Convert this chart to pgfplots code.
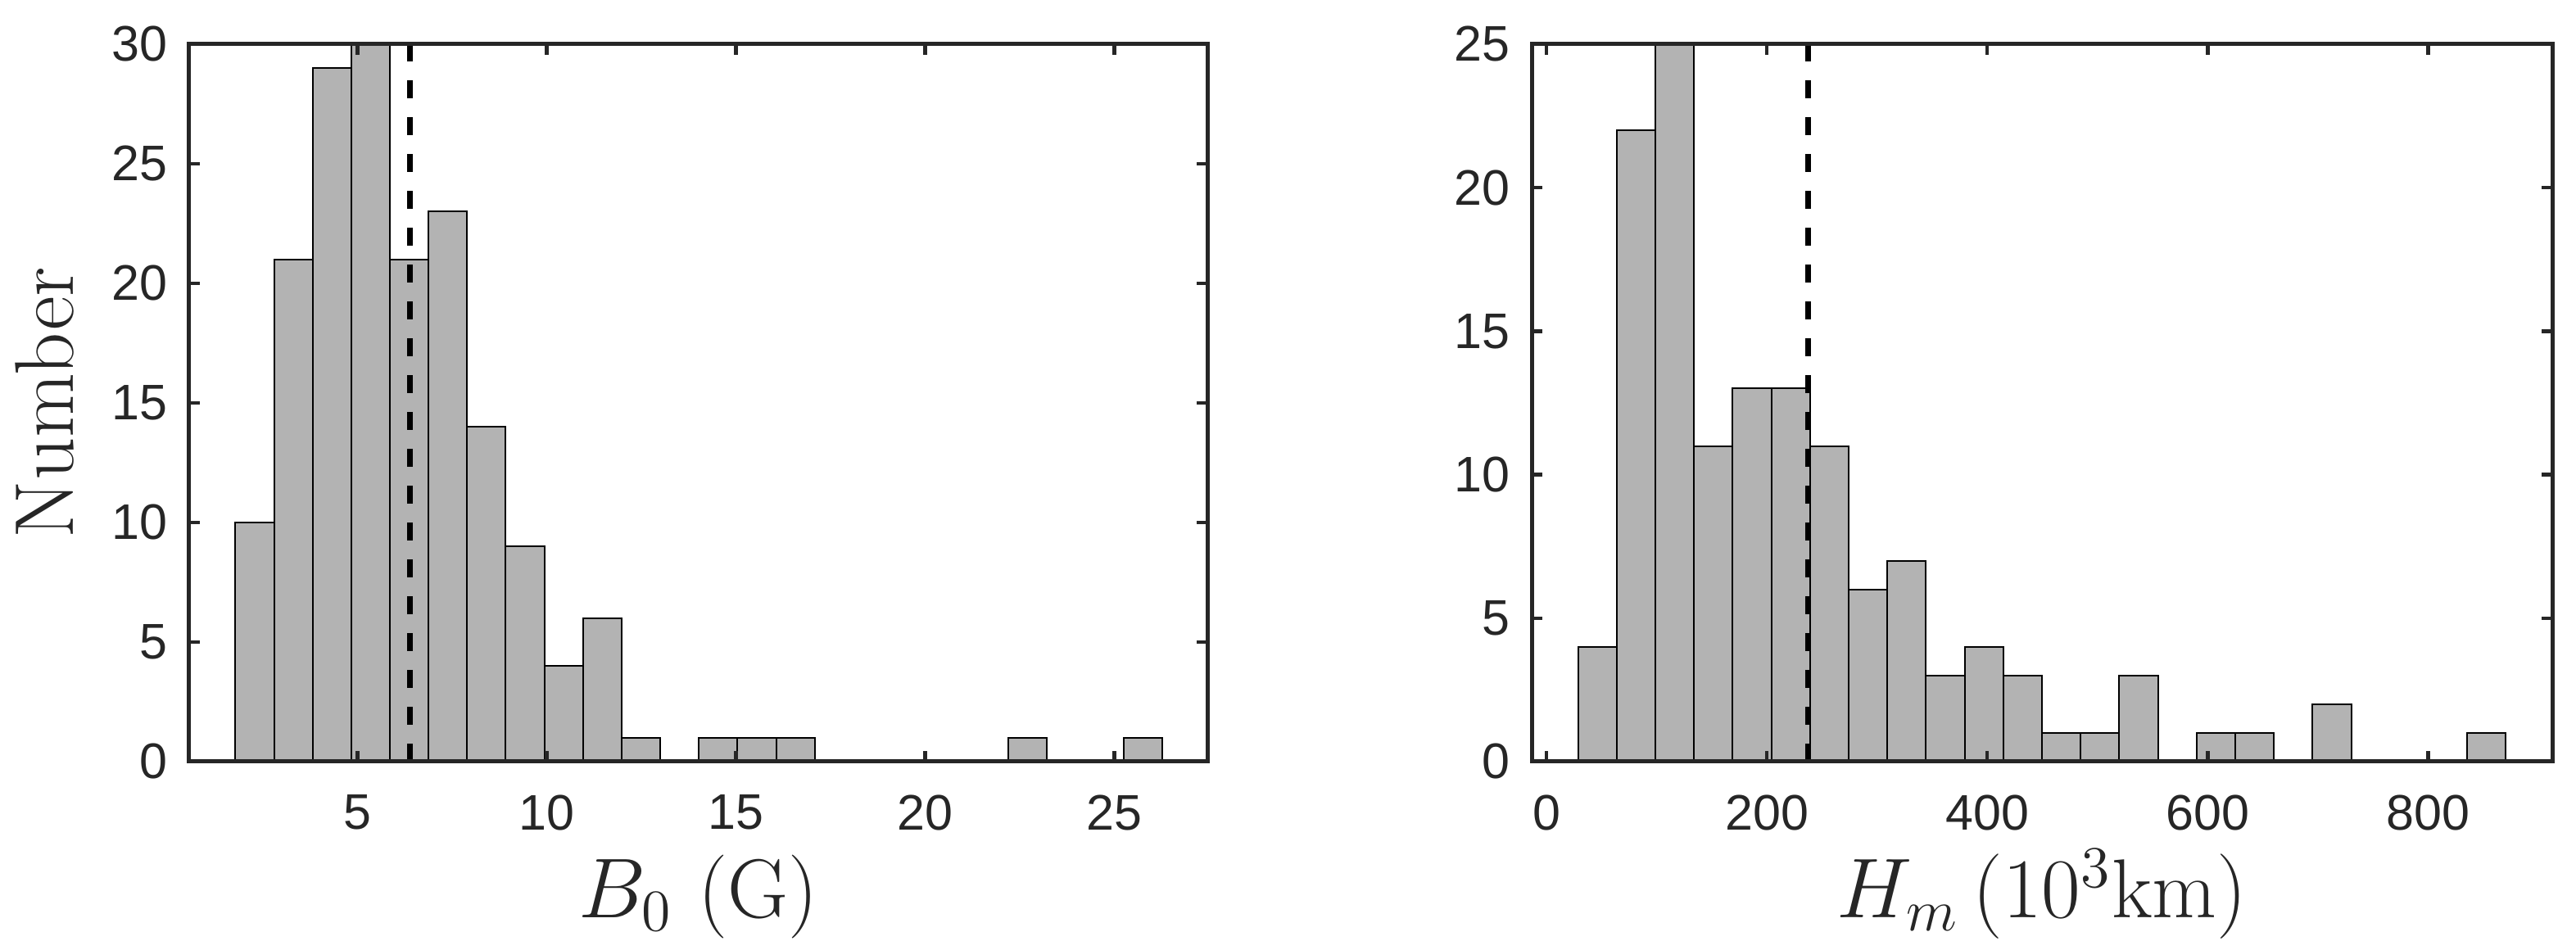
\documentclass[border=0pt]{standalone}
\usepackage{pgfplots}
\pgfplotsset{compat=1.18}
\usepackage{fontspec}
\newfontfamily\arialf{Liberation Sans}
\definecolor{axc}{HTML}{262626}
\definecolor{barc}{HTML}{B3B3B3}
\pgfplotsset{
  histax/.style={
    scale only axis,
    height=175.2pt,
    axis on top,
    axis line style={axc, line width=1pt},
    tick style={axc, line width=0.9pt},
    major tick length=2.6pt,
    tick align=inside,
    xtick pos=both, ytick pos=both,
    ymin=0,
    /pgf/number format/assume math mode=true,
    ticklabel style={font=\arialf\fontsize{12.2}{14}\selectfont, text=axc},
    xticklabel style={yshift=-4.6pt},
    yticklabel style={xshift=-1.8pt},
    label style={font=\fontsize{20.4}{22}\selectfont, text=axc},
    xlabel style={at={(axis description cs:0.5,0)}, anchor=base, yshift=-38.2pt},
    anchor=south west,
  },
  bars/.style={ybar interval, fill=barc, draw=black, line width=0.4pt},
  mean/.style={black, line width=1.3pt, dash pattern=on 4.4pt off 4.6pt},
}
\begin{document}
\begin{tikzpicture}
\useasboundingbox (0,0) rectangle (629pt,232pt);
\begin{axis}[histax, at={(46.2pt,46pt)}, width=248.6pt,
  xmin=0.55, xmax=27.46, ymax=30,
  xtick={5,10,15,20,25}, ytick={0,5,10,15,20,25,30},
  ylabel={Number},
  ylabel style={at={(axis description cs:-0.1416,0.5)}, anchor=center},
  xlabel={$B_0$ (G)}]
\addplot[bars] coordinates {
(1.770,10) (2.791,21) (3.812,29) (4.833,30) (5.854,21) (6.875,23)
(7.896,14) (8.917,9) (9.938,4) (10.959,6) (11.980,1) (13.001,0)
(14.022,1) (15.043,1) (16.064,1) (17.085,0) (18.106,0) (19.127,0)
(20.148,0) (21.169,0) (22.190,1) (23.211,0) (24.232,0) (25.253,1)
(26.274,0)};
\addplot[mean] coordinates {(6.38,0) (6.38,30)};
\end{axis}
\begin{axis}[histax, at={(374pt,46pt)}, width=249.2pt,
  xmin=-13.4, xmax=912.7, ymax=25,
  xtick={0,200,400,600,800}, ytick={0,5,10,15,20,25},
  xlabel={$H_m\,(10^3\mathrm{km})$}]
\addplot[bars] coordinates {
(28.70,4) (63.78,22) (98.86,25) (133.94,11) (169.02,13) (204.10,13)
(239.18,11) (274.26,6) (309.34,7) (344.42,3) (379.50,4) (414.58,3)
(449.66,1) (484.74,1) (519.82,3) (554.90,0) (589.98,1) (625.06,1)
(660.14,0) (695.22,2) (730.30,0) (765.38,0) (800.46,0) (835.54,1)
(870.62,0)};
\addplot[mean] coordinates {(237.6,0) (237.6,25)};
\end{axis}
\end{tikzpicture}
\end{document}
